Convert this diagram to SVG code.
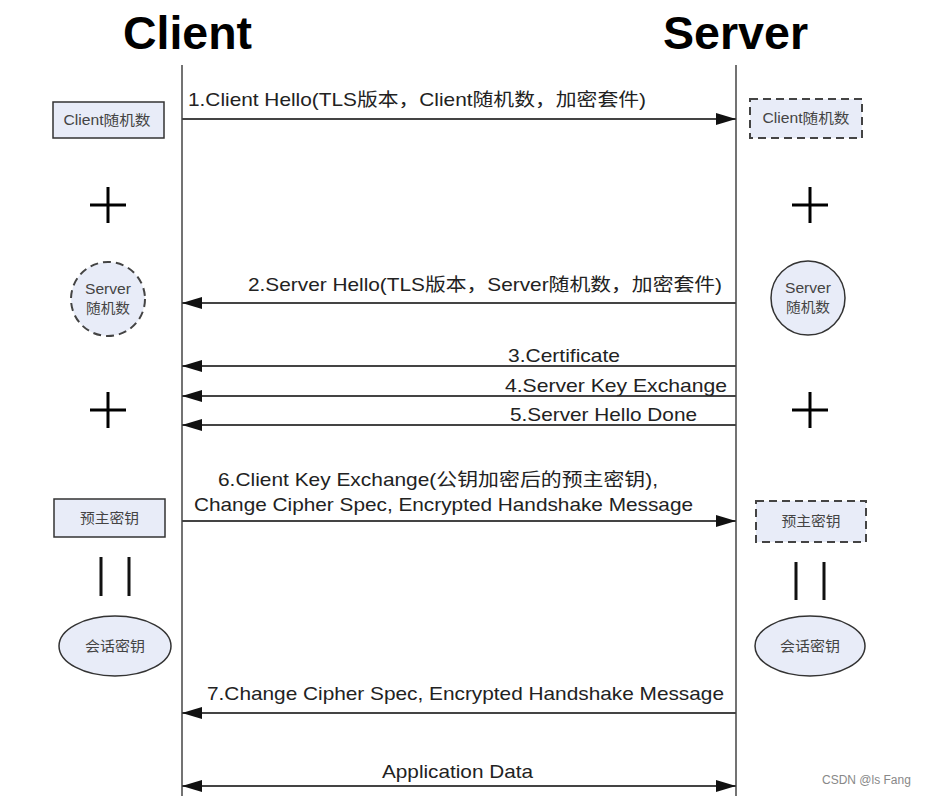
<svg xmlns="http://www.w3.org/2000/svg" width="926" height="796" viewBox="0 0 926 796">
<defs>
<marker id="ah" viewBox="0 0 20 12" refX="20" refY="6" markerWidth="20" markerHeight="12" markerUnits="userSpaceOnUse" orient="auto-start-reverse">
<path d="M0,0 L20,6 L0,12 Z" fill="#111"/>
</marker>
<style>
.title{font-family:"Liberation Sans",Arial,sans-serif;font-weight:bold;font-size:46px;fill:#000}
.lbl{font-family:"Liberation Sans","Noto Sans CJK SC",sans-serif;font-size:18.5px;fill:#222}
.nt{font-family:"Liberation Sans","Noto Sans CJK SC",sans-serif;font-size:14px;fill:#444;text-anchor:middle}
.life{stroke:#444;stroke-width:1.5;fill:none}
.msg{stroke:#444;stroke-width:2;fill:none}
.box{fill:#e8ecf8;stroke:#333;stroke-width:1.5}
.dash{fill:#e8ecf8;stroke:#444;stroke-width:2;stroke-dasharray:8 5}
.plus{stroke:#000;stroke-width:3;fill:none}
.bar{stroke:#111;stroke-width:3}
.wm{font-family:"Liberation Sans",sans-serif;font-size:12px;fill:#888}
</style>
</defs>
<rect width="926" height="796" fill="#fff"/>
<text class="title" x="123" y="49" textLength="129" lengthAdjust="spacingAndGlyphs">Client</text>
<text class="title" x="663" y="49" textLength="145" lengthAdjust="spacingAndGlyphs">Server</text>
<g id="lifelines">
<line class="life" x1="182" y1="65" x2="182" y2="796"/>
<line class="life" x1="736" y1="65" x2="736" y2="796"/>
</g>
<g id="connectors">
<line class="msg" x1="182" y1="119" x2="736" y2="119" marker-end="url(#ah)"/>
<line class="msg" x1="736" y1="303" x2="182" y2="303" marker-end="url(#ah)"/>
<line class="msg" x1="736" y1="366" x2="182" y2="366" marker-end="url(#ah)"/>
<line class="msg" x1="736" y1="396" x2="182" y2="396" marker-end="url(#ah)"/>
<line class="msg" x1="736" y1="425" x2="182" y2="425" marker-end="url(#ah)"/>
<line class="msg" x1="182" y1="521" x2="736" y2="521" marker-end="url(#ah)"/>
<line class="msg" x1="736" y1="713" x2="182" y2="713" marker-end="url(#ah)"/>
<line class="msg" x1="182" y1="786" x2="736" y2="786" marker-start="url(#ah)" marker-end="url(#ah)"/>
</g>
<g id="labels">
<text class="lbl" x="188" y="106" textLength="458" lengthAdjust="spacingAndGlyphs">1.Client Hello(TLS版本，Client随机数，加密套件)</text>
<text class="lbl" x="248" y="291" textLength="474" lengthAdjust="spacingAndGlyphs">2.Server Hello(TLS版本，Server随机数，加密套件)</text>
<text class="lbl" x="508" y="362" textLength="112" lengthAdjust="spacingAndGlyphs">3.Certificate</text>
<text class="lbl" x="505" y="392" textLength="222" lengthAdjust="spacingAndGlyphs">4.Server Key Exchange</text>
<text class="lbl" x="510" y="421" textLength="187" lengthAdjust="spacingAndGlyphs">5.Server Hello Done</text>
<text class="lbl" x="218" y="486" textLength="440" lengthAdjust="spacingAndGlyphs">6.Client Key Exchange(公钥加密后的预主密钥),</text>
<text class="lbl" x="194" y="511" textLength="499" lengthAdjust="spacingAndGlyphs">Change Cipher Spec, Encrypted Handshake Message</text>
<text class="lbl" x="207" y="700" textLength="517" lengthAdjust="spacingAndGlyphs">7.Change Cipher Spec, Encrypted Handshake Message</text>
<text class="lbl" x="382" y="778" textLength="151" lengthAdjust="spacingAndGlyphs">Application Data</text>
</g>
<g id="client-random-left">
<rect class="box" x="53" y="102" width="111" height="36"/>
<text class="nt" x="107" y="125" textLength="87" lengthAdjust="spacingAndGlyphs">Client随机数</text>
</g>
<g id="client-random-right">
<rect class="dash" x="750" y="99" width="112" height="39"/>
<text class="nt" x="806" y="123" textLength="87" lengthAdjust="spacingAndGlyphs">Client随机数</text>
</g>
<g id="plus-1-left"><path class="plus" d="M90,205 H126 M108,187 V223"/></g>
<g id="plus-1-right"><path class="plus" d="M792,205 H828 M810,187 V223"/></g>
<g id="server-random-left">
<circle class="dash" cx="108" cy="299" r="37"/>
<text class="nt" x="108" y="294" textLength="46" lengthAdjust="spacingAndGlyphs">Server</text>
<text class="nt" x="108" y="313" textLength="44" lengthAdjust="spacingAndGlyphs">随机数</text>
</g>
<g id="server-random-right">
<circle class="box" cx="808" cy="298" r="37"/>
<text class="nt" x="808" y="293" textLength="46" lengthAdjust="spacingAndGlyphs">Server</text>
<text class="nt" x="808" y="312" textLength="44" lengthAdjust="spacingAndGlyphs">随机数</text>
</g>
<g id="plus-2-left"><path class="plus" d="M90,410 H126 M108,392 V428"/></g>
<g id="plus-2-right"><path class="plus" d="M792,410 H828 M810,392 V428"/></g>
<g id="premaster-left">
<rect class="box" x="54" y="499" width="111" height="38"/>
<text class="nt" x="109.5" y="523" textLength="59" lengthAdjust="spacingAndGlyphs">预主密钥</text>
</g>
<g id="premaster-right">
<rect class="dash" x="756" y="501" width="110" height="41"/>
<text class="nt" x="811" y="526" textLength="59" lengthAdjust="spacingAndGlyphs">预主密钥</text>
</g>
<g id="equals-left"><path class="bar" d="M101,557 V596 M129,557 V596"/></g>
<g id="equals-right"><path class="bar" d="M796,562 V600 M824,562 V600"/></g>
<g id="session-left">
<ellipse class="box" cx="115" cy="646" rx="56" ry="30"/>
<text class="nt" x="115" y="651" textLength="60" lengthAdjust="spacingAndGlyphs">会话密钥</text>
</g>
<g id="session-right">
<ellipse class="box" cx="810" cy="646" rx="55" ry="30"/>
<text class="nt" x="810" y="651" textLength="60" lengthAdjust="spacingAndGlyphs">会话密钥</text>
</g>
<text class="wm" x="822" y="784">CSDN @ls Fang</text>
</svg>
